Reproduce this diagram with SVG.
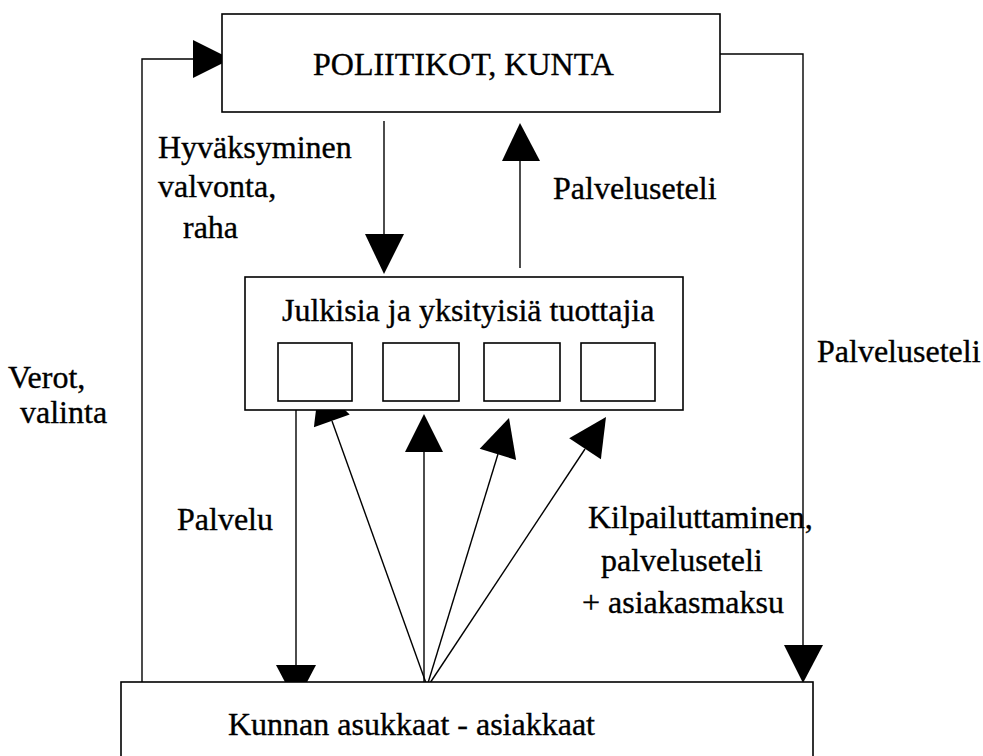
<svg xmlns="http://www.w3.org/2000/svg" width="983" height="756" viewBox="0 0 983 756">
<style>
.box{fill:#fff;stroke:#000;stroke-width:1.6}
.ln{fill:none;stroke:#000;stroke-width:1.4}
.ah{fill:#000;stroke:none}
.t{font-family:'Liberation Serif','DejaVu Serif','Times New Roman',serif;font-size:32px;fill:#000;stroke:#000;stroke-width:0.35}
</style>
<rect width="983" height="756" fill="#fff"/>
<g id="connectors">
  <polyline class="ln" points="142,683 142,59 194,59"/>
  <polygon class="ah" points="193,40 193,78 231,59"/>
  <polyline class="ln" points="720,54 803,54 803,646"/>
  <polygon class="ah" points="784,645 823,645 803,683"/>
  <line class="ln" x1="384" y1="121" x2="384" y2="235"/>
  <polygon class="ah" points="365,234 404,234 384,274"/>
  <line class="ln" x1="520" y1="268" x2="520" y2="160"/>
  <polygon class="ah" points="502,161 540,161 520,123"/>
  <line class="ln" x1="296" y1="385" x2="296" y2="666"/>
  <polygon class="ah" points="276,665 316,665 296,703"/>
  <line class="ln" x1="426" y1="683" x2="332" y2="421"/>
  <polygon class="ah" points="349.7,414.4 313.9,427.2 319,385"/>
  <line class="ln" x1="424" y1="683" x2="424" y2="451"/>
  <polygon class="ah" points="405,452 443,452 424,414"/>
  <line class="ln" x1="428" y1="683" x2="498" y2="454"/>
  <polygon class="ah" points="516.1,459.9 479.7,448.8 509,418"/>
  <line class="ln" x1="430" y1="683" x2="585" y2="449"/>
  <polygon class="ah" points="600.9,459.2 569.2,438.2 606,417"/>
</g>
<g id="politikot">
  <rect class="box" x="222" y="14" width="498" height="98"/>
  <text class="t" font-family="Liberation Serif, DejaVu Serif, serif" x="313" y="75">POLIITIKOT, KUNTA</text>
</g>
<g id="tuottajat">
  <rect class="box" x="245" y="277" width="438" height="133"/>
  <text class="t" font-family="Liberation Serif, DejaVu Serif, serif" x="282" y="321">Julkisia ja yksityisiä tuottajia</text>
  <rect class="box" x="278" y="343" width="74" height="58"/>
  <rect class="box" x="383" y="343" width="76" height="58"/>
  <rect class="box" x="484" y="343" width="76" height="58"/>
  <rect class="box" x="581" y="343" width="74" height="58"/>
</g>
<g id="asukkaat">
  <rect class="box" x="121" y="682" width="692" height="90"/>
  <text class="t" font-family="Liberation Serif, DejaVu Serif, serif" x="228" y="735">Kunnan asukkaat - asiakkaat</text>
</g>
<g id="labels" font-family="Liberation Serif, DejaVu Serif, serif">
  <text class="t" x="158" y="158">Hyväksyminen</text>
  <text class="t" x="158" y="197">valvonta,</text>
  <text class="t" x="183" y="238">raha</text>
  <text class="t" x="553" y="199">Palveluseteli</text>
  <text class="t" x="817" y="362">Palveluseteli</text>
  <text class="t" x="8" y="388">Verot,</text>
  <text class="t" x="20" y="423">valinta</text>
  <text class="t" x="177" y="530">Palvelu</text>
  <text class="t" x="588" y="528">Kilpailuttaminen,</text>
  <text class="t" x="601" y="571">palveluseteli</text>
  <text class="t" x="582" y="613">+ asiakasmaksu</text>
</g>
</svg>
